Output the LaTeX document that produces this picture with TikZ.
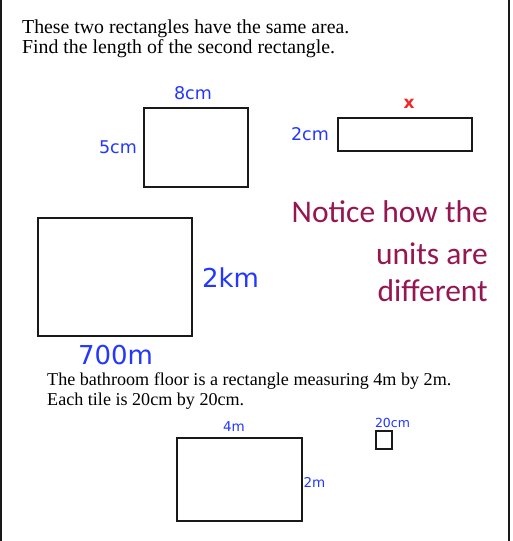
\documentclass[tikz,border=0pt]{standalone}
\usepackage{fontspec}
\newfontfamily\serifq{Liberation Serif}
\newfontfamily\comic{DejaVu Sans}
\newfontfamily\calib{Carlito}
\definecolor{lblue}{RGB}{35,55,255}
\definecolor{lred}{RGB}{240,40,40}
\definecolor{maroon}{RGB}{150,22,82}
\definecolor{frame}{RGB}{25,25,25}
\tikzset{
  box/.style={draw=frame, line width=2pt, inner sep=0pt, fill=white},
  lbl/.style={text=lblue, inner sep=0pt, font=\comic},
  para/.style={anchor=base west, inner sep=0pt, font=\serifq\fontsize{19.8}{22}\selectfont, text=black},
  parb/.style={para, font=\serifq\fontsize{18.1}{21}\selectfont},
  note/.style={anchor=base east, inner sep=0pt, font=\calib\fontsize{31.5}{36}\selectfont, text=maroon}
}
\begin{document}
\begin{tikzpicture}[x=1pt,y=-1pt]
\useasboundingbox (0,0) rectangle (513,541);
\fill[white] (0,0) rectangle (513,541);
\draw[line width=2.2pt, frame] (1,0) -- (1,541);
\draw[line width=2.2pt, frame] (509,0) -- (509,541);
% first question
\node[para] (t1) at (22,33) {These two rectangles have the same area.};
\node[para] (t2) at (22,53) {Find the length of the second rectangle.};
\node[box, minimum width=104, minimum height=79] (r1) at (196,147.5) {};
\node[lbl, font=\comic\fontsize{17.5}{20}\selectfont] (l8) at (193,93) {8cm};
\node[lbl, font=\comic\fontsize{17.5}{20}\selectfont] (l5) at (118,147) {5cm};
\node[box, minimum width=134, minimum height=33] (r2) at (405,134.5) {};
\node[lbl, font=\comic\fontsize{17.5}{20}\selectfont] (l2) at (310,134) {2cm};
\node[lbl, text=lred, font=\comic\fontsize{17}{19}\selectfont\bfseries] (lx) at (409,104) {x};
% second
\node[box, line width=2.5pt, minimum width=154, minimum height=118] (r3) at (115,277) {};
\node[lbl, font=\comic\fontsize{26}{30}\selectfont] (l2k) at (230.5,278) {2km};
\node[lbl, font=\comic\fontsize{26}{30}\selectfont] (l700) at (115.5,355) {700m};
\node[note] (n1) at (488,222) {Notice how the};
\node[note] (n2) at (488,264) {units are};
\node[note] (n3) at (488,301) {different};
% third
\node[parb] (t3) at (47,385) {The bathroom floor is a rectangle measuring 4m by 2m.};
\node[parb] (t4) at (47,405) {Each tile is 20cm by 20cm.};
\node[box, minimum width=125, minimum height=83] (r4) at (239.5,479.5) {};
\node[lbl, font=\comic\fontsize{13.5}{16}\selectfont] (l4m) at (234,426.5) {4m};
\node[lbl, font=\comic\fontsize{13.5}{16}\selectfont] (l2m) at (314.5,482) {2m};
\node[box, minimum width=16, minimum height=18] (sq) at (384,439.5) {};
\node[lbl, font=\comic\fontsize{12.5}{15}\selectfont] (l20) at (392.5,423) {20cm};
\end{tikzpicture}
\end{document}
